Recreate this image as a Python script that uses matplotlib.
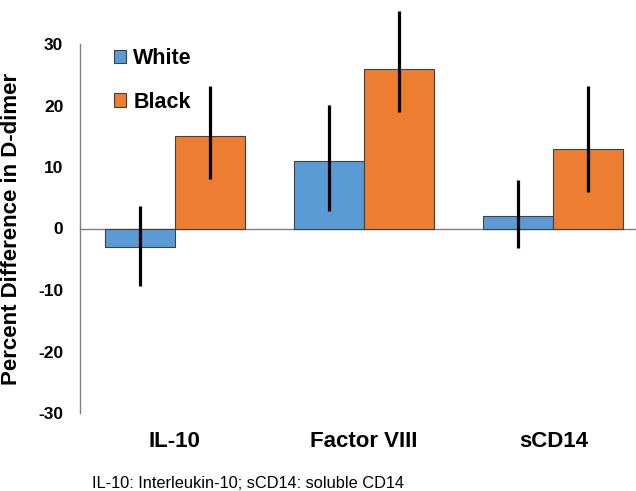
import numpy as np
import matplotlib
matplotlib.use("Agg")
import matplotlib.pyplot as plt

plt.rcParams["font.family"] = ["Liberation Sans", "DejaVu Sans"]
plt.rcParams["axes.unicode_minus"] = False

markers = ["IL-10", "Factor VIII", "sCD14"]
white = [-3.0, 11.0, 2.0]
white_lo = [-9.4, 2.8, -3.1]
white_hi = [3.7, 20.1, 7.9]
black = [15.0, 26.0, 13.0]
black_lo = [8.0, 19.0, 6.0]
black_hi = [23.2, 35.3, 23.2]

blue = "#5B9BD5"
orange = "#ED7D31"

fig = plt.figure(figsize=(6.36, 4.91), dpi=100)
ax = fig.add_axes([80 / 636, 78 / 491, 568 / 636, 369 / 491])

x = np.arange(len(markers))
w = 0.37

ax.bar(x - w / 2, white, w, color=blue, edgecolor="#404040", linewidth=0.8,
       label="White", zorder=2)
ax.bar(x + w / 2, black, w, color=orange, edgecolor="#404040", linewidth=0.8,
       label="Black", zorder=2)

white_err = [np.array(white) - np.array(white_lo), np.array(white_hi) - np.array(white)]
black_err = [np.array(black) - np.array(black_lo), np.array(black_hi) - np.array(black)]
for xs, ys, err in [(x - w / 2, white, white_err), (x + w / 2, black, black_err)]:
    eb = ax.errorbar(xs, ys, yerr=err, fmt="none", ecolor="black", elinewidth=2.3,
                     capsize=0, zorder=3)
    for part in eb.lines[2]:
        part.set_clip_on(False)

ax.axhline(0, color="#808080", linewidth=1, zorder=1, clip_on=False)

ax.set_xlim(-0.5, 2.5)
ax.set_ylim(-30, 30)
ax.set_yticks([-30, -20, -10, 0, 10, 20, 30])
ax.set_xticks(x)
ax.set_xticklabels(markers, fontsize=16, fontweight="bold")
ax.tick_params(axis="y", length=0, pad=12, labelsize=12.5)
ax.tick_params(axis="x", length=0, pad=13)
for lab in ax.get_yticklabels():
    lab.set_fontweight("bold")

for s in ["top", "right", "bottom"]:
    ax.spines[s].set_visible(False)
ax.spines["left"].set_color("#808080")
ax.spines["left"].set_linewidth(1)

# y label centred on the axes, left edge of the figure
ax.set_ylabel("Percent Difference in D-dimer", fontsize=16, fontweight="bold")
ax.yaxis.set_label_coords(22 / 636, 1 - 228.5 / 491, transform=fig.transFigure)

ax.legend(loc="upper left", bbox_to_anchor=(114 / 636, 1 - 48 / 491),
          bbox_transform=fig.transFigure, frameon=False, borderpad=0, borderaxespad=0,
          prop={"size": 15.5, "weight": "bold"}, handlelength=0.56, handleheight=0.56,
          handletextpad=0.33, labelspacing=1.05)

fig.text(92 / 636, 1 - 483 / 491, "IL-10: Interleukin-10; sCD14: soluble CD14",
         fontsize=11.8, va="center", ha="left")

fig.savefig("out.png", dpi=100)
